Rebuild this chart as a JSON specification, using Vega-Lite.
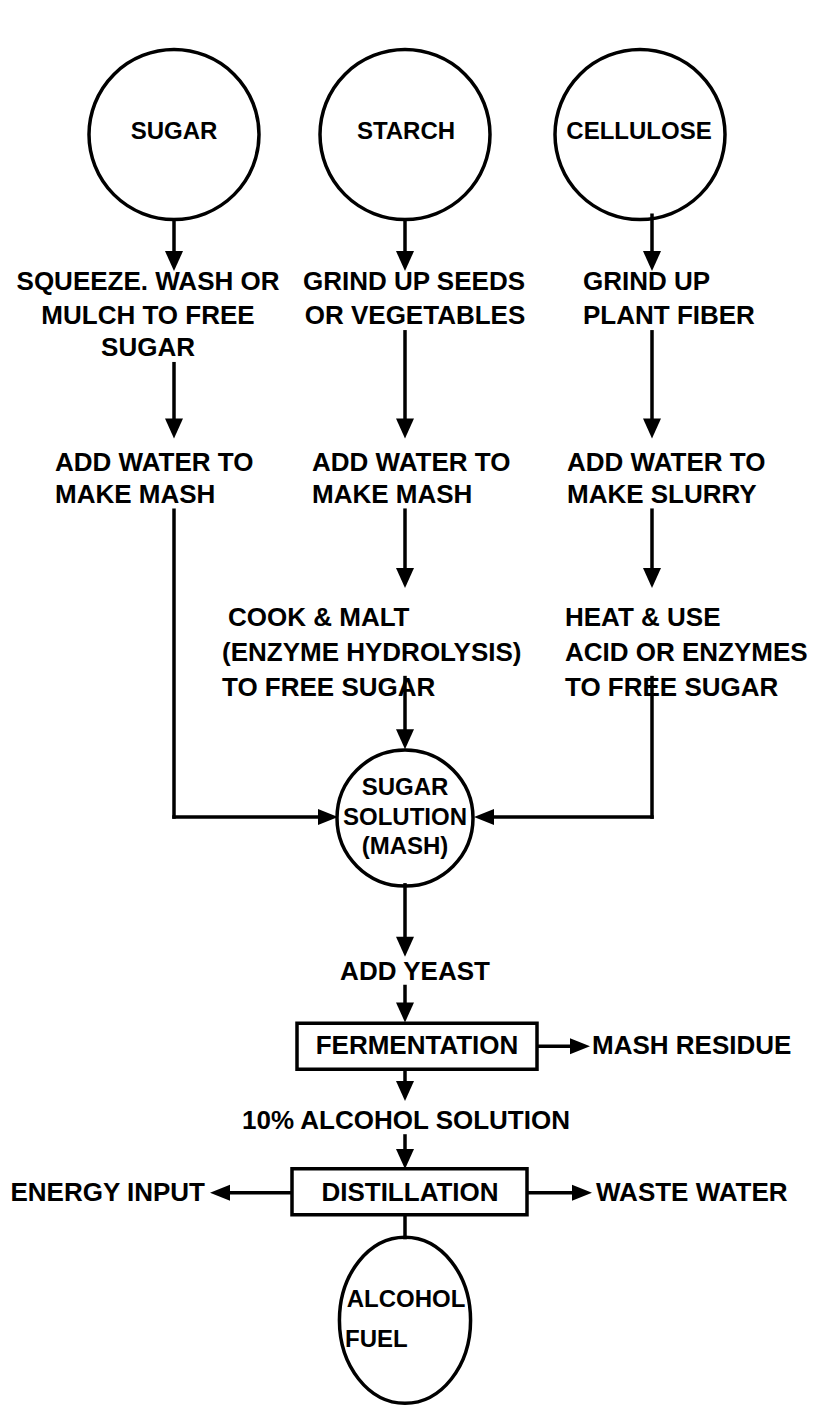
{
  "$schema": "https://vega.github.io/schema/vega-lite/v6.json",
  "width": 821,
  "height": 1410,
  "autosize": {"type": "fit", "contains": "padding"},
  "padding": 0,
  "background": "white",
  "config": {"view": {"stroke": null}},
  "datasets": {
    "lines": [
      {"x": 174, "y": 222, "x2": 174, "y2": 262},
      {"x": 405, "y": 222, "x2": 405, "y2": 262},
      {"x": 652, "y": 216, "x2": 652, "y2": 262},
      {"x": 174, "y": 365, "x2": 174, "y2": 430},
      {"x": 405, "y": 333, "x2": 405, "y2": 430},
      {"x": 652, "y": 333, "x2": 652, "y2": 430},
      {"x": 405, "y": 512, "x2": 405, "y2": 580},
      {"x": 652, "y": 512, "x2": 652, "y2": 580},
      {"x": 174, "y": 512, "x2": 174, "y2": 820},
      {"x": 174, "y": 820, "x2": 328, "y2": 820},
      {"x": 405, "y": 680, "x2": 405, "y2": 742},
      {"x": 652, "y": 680, "x2": 652, "y2": 820},
      {"x": 652, "y": 820, "x2": 484, "y2": 820},
      {"x": 405, "y": 888, "x2": 405, "y2": 950},
      {"x": 405, "y": 990, "x2": 405, "y2": 1016},
      {"x": 537, "y": 1050, "x2": 580, "y2": 1050},
      {"x": 405, "y": 1073, "x2": 405, "y2": 1095},
      {"x": 405, "y": 1140, "x2": 405, "y2": 1163},
      {"x": 292, "y": 1197, "x2": 220, "y2": 1197},
      {"x": 527, "y": 1197, "x2": 582, "y2": 1197},
      {"x": 405, "y": 1218, "x2": 405, "y2": 1242}
    ],
    "arrowsDown": [
      {"x": 174, "y": 262}, {"x": 405, "y": 262}, {"x": 652, "y": 262},
      {"x": 174, "y": 430}, {"x": 405, "y": 430}, {"x": 652, "y": 430},
      {"x": 405, "y": 580}, {"x": 652, "y": 580},
      {"x": 405, "y": 742}, {"x": 405, "y": 950}, {"x": 405, "y": 1016},
      {"x": 405, "y": 1095}, {"x": 405, "y": 1163}
    ],
    "arrowsRight": [
      {"x": 328, "y": 820}, {"x": 580, "y": 1050}, {"x": 582, "y": 1197}
    ],
    "arrowsLeft": [
      {"x": 484, "y": 820}, {"x": 220, "y": 1197}
    ],
    "bigCircles": [
      {"node": "SUGAR", "x": 174, "y": 135},
      {"node": "STARCH", "x": 405, "y": 135},
      {"node": "CELLULOSE", "x": 640, "y": 135}
    ],
    "midCircles": [
      {"node": "SUGAR SOLUTION (MASH)", "x": 405, "y": 821}
    ],
    "ovals": [
      {"node": "ALCOHOL FUEL", "x": 405, "y": 1325}
    ],
    "boxes": [
      {"node": "FERMENTATION", "x": 297, "x2": 537, "y": 1027, "y2": 1073},
      {"node": "DISTILLATION", "x": 292, "x2": 527, "y": 1173, "y2": 1219}
    ],
    "labelsCircle": [
      {"text": "SUGAR", "x": 174, "y": 132},
      {"text": "STARCH", "x": 406, "y": 132},
      {"text": "CELLULOSE", "x": 639, "y": 132},
      {"text": "SUGAR", "x": 405, "y": 791},
      {"text": "SOLUTION", "x": 405, "y": 821},
      {"text": "(MASH)", "x": 405, "y": 850},
      {"text": "ALCOHOL", "x": 406, "y": 1305}
    ],
    "textCenter": [
      {"text": "SQUEEZE. WASH OR", "x": 148, "y": 283},
      {"text": "MULCH TO FREE", "x": 148, "y": 317},
      {"text": "SUGAR", "x": 148, "y": 349},
      {"text": "GRIND UP SEEDS", "x": 414, "y": 283},
      {"text": "OR VEGETABLES", "x": 415, "y": 317},
      {"text": "ADD YEAST", "x": 415, "y": 975},
      {"text": "FERMENTATION", "x": 417, "y": 1050},
      {"text": "10% ALCOHOL SOLUTION", "x": 406, "y": 1125},
      {"text": "DISTILLATION", "x": 410, "y": 1197}
    ],
    "textLeft": [
      {"text": "GRIND UP", "x": 583, "y": 283},
      {"text": "PLANT FIBER", "x": 583, "y": 317},
      {"text": "ADD WATER TO", "x": 55, "y": 465},
      {"text": "MAKE MASH", "x": 55, "y": 497},
      {"text": "ADD WATER TO", "x": 312, "y": 465},
      {"text": "MAKE MASH", "x": 312, "y": 497},
      {"text": "ADD WATER TO", "x": 567, "y": 465},
      {"text": "MAKE SLURRY", "x": 567, "y": 497},
      {"text": "COOK & MALT", "x": 228, "y": 620},
      {"text": "(ENZYME HYDROLYSIS)", "x": 222, "y": 655},
      {"text": "TO FREE SUGAR", "x": 222, "y": 690},
      {"text": "HEAT & USE", "x": 565, "y": 620},
      {"text": "ACID OR ENZYMES", "x": 565, "y": 655},
      {"text": "TO FREE SUGAR", "x": 565, "y": 690},
      {"text": "MASH RESIDUE", "x": 592, "y": 1050},
      {"text": "WASTE WATER", "x": 596, "y": 1197}
    ],
    "labelsLeft": [
      {"text": "FUEL", "x": 345, "y": 1345}
    ],
    "textRight": [
      {"text": "ENERGY INPUT", "x": 205, "y": 1197}
    ]
  },
  "encoding": {
    "x": {"field": "x", "type": "quantitative", "axis": null, "scale": {"domain": [0, 821], "nice": false, "zero": false}},
    "y": {"field": "y", "type": "quantitative", "axis": null, "scale": {"domain": [0, 1410], "nice": false, "zero": false, "reverse": true}}
  },
  "layer": [
    {
      "data": {"name": "lines"},
      "mark": {"type": "rule", "stroke": "black", "strokeWidth": 3.5, "strokeCap": "square"},
      "encoding": {"x2": {"field": "x2"}, "y2": {"field": "y2"}}
    },
    {
      "data": {"name": "bigCircles"},
      "mark": {"type": "point", "shape": "circle", "size": 28900, "filled": false, "stroke": "black", "strokeWidth": 3.5, "opacity": 1}
    },
    {
      "data": {"name": "midCircles"},
      "mark": {"type": "point", "shape": "circle", "size": 18496, "filled": false, "stroke": "black", "strokeWidth": 3.5, "opacity": 1}
    },
    {
      "data": {"name": "ovals"},
      "mark": {"type": "point", "shape": "M -0.79 0 A 0.79 1 0 1 0 0.79 0 A 0.79 1 0 1 0 -0.79 0 Z", "size": 27556, "filled": false, "stroke": "black", "strokeWidth": 3.5, "opacity": 1}
    },
    {
      "data": {"name": "boxes"},
      "mark": {"type": "rect", "fill": "white", "stroke": "black", "strokeWidth": 3.5},
      "encoding": {"x2": {"field": "x2"}, "y2": {"field": "y2"}}
    },
    {
      "data": {"name": "arrowsDown"},
      "mark": {"type": "point", "shape": "M -0.9 -1 L 0.9 -1 L 0 1 Z", "size": 400, "filled": true, "fill": "black", "opacity": 1}
    },
    {
      "data": {"name": "arrowsRight"},
      "mark": {"type": "point", "shape": "M -1 -0.8 L -1 0.8 L 1 0 Z", "size": 400, "filled": true, "fill": "black", "opacity": 1}
    },
    {
      "data": {"name": "arrowsLeft"},
      "mark": {"type": "point", "shape": "M 1 -0.8 L 1 0.8 L -1 0 Z", "size": 400, "filled": true, "fill": "black", "opacity": 1}
    },
    {
      "data": {"name": "labelsCircle"},
      "mark": {"type": "text", "align": "center", "baseline": "middle", "font": "Liberation Sans", "fontWeight": "bold", "fontSize": 24, "fill": "black"},
      "encoding": {"text": {"field": "text"}}
    },
    {
      "data": {"name": "labelsLeft"},
      "mark": {"type": "text", "align": "left", "baseline": "middle", "font": "Liberation Sans", "fontWeight": "bold", "fontSize": 24, "fill": "black"},
      "encoding": {"text": {"field": "text"}}
    },
    {
      "data": {"name": "textCenter"},
      "mark": {"type": "text", "align": "center", "baseline": "middle", "font": "Liberation Sans", "fontWeight": "bold", "fontSize": 26, "fill": "black"},
      "encoding": {"text": {"field": "text"}}
    },
    {
      "data": {"name": "textLeft"},
      "mark": {"type": "text", "align": "left", "baseline": "middle", "font": "Liberation Sans", "fontWeight": "bold", "fontSize": 26, "fill": "black"},
      "encoding": {"text": {"field": "text"}}
    },
    {
      "data": {"name": "textRight"},
      "mark": {"type": "text", "align": "right", "baseline": "middle", "font": "Liberation Sans", "fontWeight": "bold", "fontSize": 26, "fill": "black"},
      "encoding": {"text": {"field": "text"}}
    }
  ]
}
